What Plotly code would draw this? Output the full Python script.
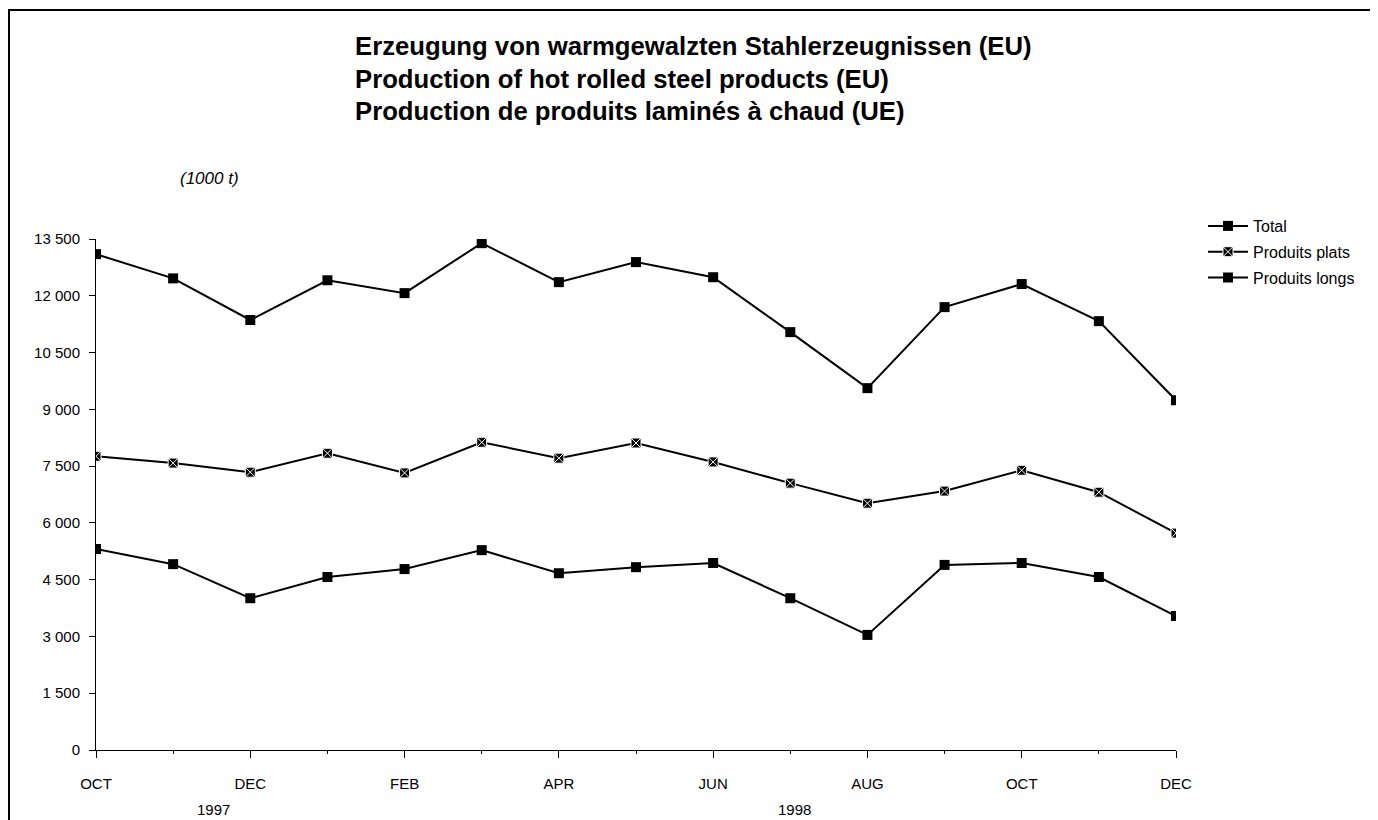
import plotly.graph_objects as go

months = ["OCT", "NOV", "DEC", "JAN", "FEB", "MAR", "APR", "MAY", "JUN",
          "JUL", "AUG", "SEP", "OCT", "NOV", "DEC"]
total = [13100, 12460, 11360, 12410, 12070, 13390, 12360, 12890, 12490,
         11040, 9560, 11700, 12310, 11330, 9240]
plats = [7760, 7580, 7340, 7840, 7320, 8130, 7710, 8110, 7610,
         7050, 6520, 6840, 7390, 6810, 5730]
longs = [5310, 4910, 4010, 4570, 4780, 5280, 4670, 4830, 4940,
         4010, 3040, 4890, 4940, 4570, 3540]
series_names = ["Total", "Produits plats", "Produits longs"]
y_ticks = [0, 1500, 3000, 4500, 6000, 7500, 9000, 10500, 12000, 13500]
y_ticktext = ["0", "1 500", "3 000", "4 500", "6 000", "7 500", "9 000",
              "10 500", "12 000", "13 500"]
titles = ["Erzeugung von warmgewalzten Stahlerzeugnissen (EU)",
          "Production of hot rolled steel products (EU)",
          "Production de produits laminés à chaud (UE)"]
unit = "(1000 t)"
years = ["1997", "1998"]

FONT = "Liberation Sans, Arial, sans-serif"
xs = list(range(len(months)))

fig = go.Figure()
fig.add_trace(go.Scatter(x=xs, y=total, name=series_names[0], mode="lines+markers",
                         legendgroup="a",
                         line=dict(color="black", width=2),
                         marker=dict(symbol="square", size=10, color="black")))
fig.add_trace(go.Scatter(x=xs, y=plats, name=series_names[1], mode="lines+markers",
                         legendgroup="b",
                         line=dict(color="black", width=2),
                         marker=dict(symbol="square-x", size=10, color="black",
                                     line=dict(color="white", width=1))))
fig.add_trace(go.Scatter(x=xs, y=longs, name=series_names[2], mode="lines+markers",
                         legendgroup="c",
                         line=dict(color="black", width=2),
                         marker=dict(symbol="square", size=10, color="black")))

OFF = 8  # page body margin
W, H = 1370, 812
L, R, T, B = 88, 202, 231, 70
pw, ph = W - L - R, H - T - B


def px(sx):
    return (sx - OFF - L) / pw


def py(sy):
    return (H - B - (sy - OFF)) / ph


fig.update_layout(
    width=W, height=H,
    margin=dict(l=L, r=R, t=T, b=B),
    paper_bgcolor="white", plot_bgcolor="white",
    font=dict(family=FONT, size=15, color="black"),
    showlegend=True,
    legend=dict(x=px(1203), y=py(209), xanchor="left", yanchor="top",
                font=dict(size=16, family=FONT), bgcolor="rgba(0,0,0,0)",
                itemwidth=40, tracegroupgap=2),
    xaxis=dict(range=[0, len(months) - 1], showgrid=False, zeroline=False,
               showline=True, linecolor="black", linewidth=1,
               tickmode="array", tickvals=xs[::2], ticktext=months[::2],
               ticks="outside", ticklen=7, tickcolor="black", tickwidth=1,
               ticklabelstandoff=13,
               minor=dict(tickmode="array", tickvals=xs[1::2], ticks="outside",
                          ticklen=3, tickcolor="black"),
               tickfont=dict(size=15)),
    yaxis=dict(range=[0, 13500], showgrid=False, zeroline=False,
               showline=True, linecolor="black", linewidth=1,
               tickmode="array", tickvals=y_ticks, ticktext=y_ticktext,
               ticks="outside", ticklen=6, tickcolor="black", tickwidth=1,
               ticklabelstandoff=6,
               tickfont=dict(size=15)),
)

for t, yy in zip(titles, [46, 79, 111]):
    fig.add_annotation(text="<b>" + t + "</b>", x=px(353), y=py(yy), xref="paper", yref="paper",
                       xanchor="left", yanchor="middle", showarrow=False,
                       font=dict(size=25.7, family=FONT))
fig.add_annotation(text="<i>" + unit + "</i>", x=px(178), y=py(178), xref="paper", yref="paper",
                   xanchor="left", yanchor="middle", showarrow=False,
                   font=dict(size=17, family=FONT))
fig.add_annotation(text=years[0], x=px(213), y=py(809), xref="paper", yref="paper",
                   xanchor="center", yanchor="middle", showarrow=False, font=dict(size=15))
fig.add_annotation(text=years[1], x=px(794), y=py(809), xref="paper", yref="paper",
                   xanchor="center", yanchor="middle", showarrow=False, font=dict(size=15))

fig.add_shape(type="rect", xref="paper", yref="paper",
              x0=px(9), x1=px(1372), y0=py(840), y1=py(10),
              line=dict(color="black", width=2), fillcolor="rgba(0,0,0,0)")

fig.write_html("out.html")
